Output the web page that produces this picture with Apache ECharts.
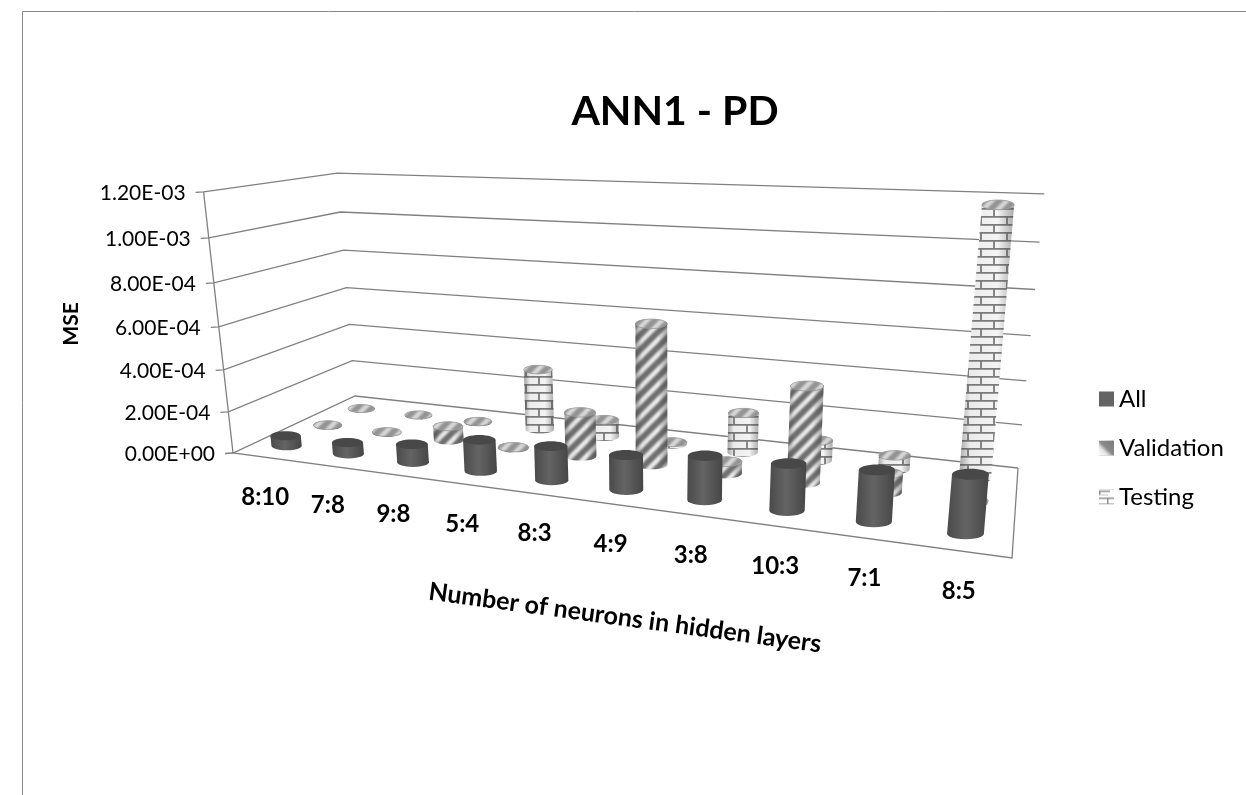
<!DOCTYPE html>
<html><head><meta charset="utf-8">
<style>html,body{margin:0;padding:0;background:#fff}#c{width:1246px;height:795px}</style>
<script src="https://cdn.jsdelivr.net/npm/echarts@6/dist/echarts.min.js"></script>
</head><body><div id="c"></div>
<script>
const categories = ['8:10','7:8','9:8','5:4','8:3','4:9','3:8','10:3','7:1','8:5'];
const allValues = [5e-5,5.5e-5,8.5e-5,1.45e-4,1.55e-4,1.55e-4,1.92e-4,2e-4,2.15e-4,2.4e-4];
const validationValues = [3e-6,4e-6,7e-5,4e-6,2.1e-4,6.45e-4,5.5e-5,4.3e-4,8.5e-5,1e-5];
const testingValues = [3e-6,3e-6,4e-6,3.05e-4,8.5e-5,1e-5,1.9e-4,9.5e-5,6.5e-5,1.17e-3];
const yTicks = [0,2e-4,4e-4,6e-4,8e-4,1e-3,1.2e-3];
const yTickLabels = ['0.00E+00','2.00E-04','4.00E-04','6.00E-04','8.00E-04','1.00E-03','1.20E-03'];

const FONT='Lato';
// projection: floor homography plus a height column fitted to the wall corners
const FL=[233,453],FR=[1012,558],BR=[1018,468],BL=[355,396];
const TFL=[208,191],TBL=[333,172],TBR=[1045,196];
const H=(function(){
  const dx1=FR[0]-BR[0],dy1=FR[1]-BR[1],dx2=BL[0]-BR[0],dy2=BL[1]-BR[1];
  const sx=FL[0]-FR[0]+BR[0]-BL[0],sy=FL[1]-FR[1]+BR[1]-BL[1];
  const den=dx1*dy2-dx2*dy1;
  const g=(sx*dy2-dx2*sy)/den,h=(dx1*sy-sx*dy1)/den;
  return {a:FR[0]-FL[0]+g*FR[0],b:BL[0]-FL[0]+h*BL[0],c:FL[0],d:FR[1]-FL[1]+g*FR[1],e:BL[1]-FL[1]+h*BL[1],f:FL[1],g,h};
})();
function floorH(u,d){return [H.a*u+H.b*d+H.c,H.d*u+H.e*d+H.f,H.g*u+H.h*d+1];}
const Z=(function(){
  const pts=[[0,0,TFL],[1,1,TBR],[0,1,TBL]];
  const M=[[0,0,0],[0,0,0],[0,0,0]],R=[0,0,0];
  function add(r,t){for(let i=0;i<3;i++){R[i]+=r[i]*t;for(let j=0;j<3;j++)M[i][j]+=r[i]*r[j];}}
  pts.forEach(p=>{const f=floorH(p[0],p[1]);const t=p[2];
    add([1,0,-t[0]],t[0]*f[2]-f[0]);add([0,1,-t[1]],t[1]*f[2]-f[1]);});
  for(let i=0;i<3;i++){for(let k=i+1;k<3;k++){const m=M[k][i]/M[i][i];for(let j=i;j<3;j++)M[k][j]-=m*M[i][j];R[k]-=m*R[i];}}
  const s=[0,0,0];
  for(let i=2;i>=0;i--){let v=R[i];for(let j=i+1;j<3;j++)v-=M[i][j]*s[j];s[i]=v/M[i][i];}
  return s;
})();
function P(u,d,h){const f=floorH(u,d);const w=f[2]+Z[2]*h;return [(f[0]+Z[0]*h)/w,(f[1]+Z[1]*h)/w];}
function norm(api,params,i,v){
  const p=api.coord([i,v]);const c=params.coordSys;
  return [(p[0]-c.x)/c.width,(c.y+c.height-p[1])/c.height];
}
// textures
function mk(w,h,fn){const c=document.createElement('canvas');c.width=w;c.height=h;fn(c.getContext('2d'),w,h);return c;}
const stripeTex=mk(15,15,(g,w,h)=>{
  g.fillStyle='#f0f0f0';g.fillRect(0,0,w,h);
  g.strokeStyle='#6f6f6f';g.lineWidth=6;g.lineCap='square';g.filter='blur(1px)';
  for(let k=-30;k<=45;k+=15){g.beginPath();g.moveTo(k-5,h+5);g.lineTo(k+w+5,-5);g.stroke();}
});
const brickTex=mk(26,16,(g,w,h)=>{
  g.fillStyle='#f4f4f4';g.fillRect(0,0,w,h);
  g.strokeStyle='#7c7c7c';g.lineWidth=1.8;
  g.beginPath();g.moveTo(0,.9);g.lineTo(w,.9);g.moveTo(0,8.9);g.lineTo(w,8.9);
  g.moveTo(6,0);g.lineTo(6,8);g.moveTo(19,8);g.lineTo(19,16);g.stroke();
});
const legendValid=mk(15,15,(g)=>{
  const l=g.createLinearGradient(0,15,15,0);l.addColorStop(0,'#ffffff');l.addColorStop(.3,'#e4e4e4');l.addColorStop(.5,'#8a8a8a');l.addColorStop(1,'#7a7a7a');
  g.fillStyle=l;g.fillRect(0,0,15,15);
});
const legendTest=mk(15,15,(g)=>{
  g.fillStyle='#fff';g.fillRect(0,0,15,15);
  g.fillStyle='#8f8f8f';g.fillRect(0,1,11,1.5);g.fillRect(0,8,15,1.5);g.fillRect(0,14,15,1);
  g.fillRect(0,1,1.5,4);g.fillRect(8,8,1.5,6);
  g.fillStyle='#c4c4c4';g.fillRect(0,5,9,1);
});
const legendAll=mk(15,15,(g)=>{g.fillStyle='#646464';g.fillRect(0,0,15,15);});
function pat(c){return {image:c,repeat:'repeat'};}

const LINE={stroke:'#808080',lineWidth:1.3};
function barRender(kind,depth){
  const base=15.5-3*depth;
  return function(params,api){
    const i=api.value(0),v=api.value(1);
    const p0=norm(api,params,i,0),p1=norm(api,params,i,v);
    const u=p0[0];
    const b=P(u,depth,0),t=P(u,depth,p1[1]);
    const rx=base*(1+0.24*u),ry=rx*0.3;
    const pts=[[t[0]-rx,t[1]],[b[0]-rx,b[1]]];
    for(let k=1;k<12;k++){const a=Math.PI*k/12;pts.push([b[0]-rx*Math.cos(a),b[1]+ry*Math.sin(a)]);}
    pts.push([b[0]+rx,b[1]],[t[0]+rx,t[1]]);
    const shade={type:'linear',x:0,y:0,x2:1,y2:0,colorStops:
      kind==='all'?[{offset:0,color:'#4a4a4a'},{offset:.45,color:'#646464'},{offset:1,color:'#464646'}]:
      [{offset:0,color:'rgba(60,60,60,.45)'},{offset:.2,color:'rgba(60,60,60,.05)'},{offset:.7,color:'rgba(60,60,60,0)'},{offset:1,color:'rgba(60,60,60,.4)'}]};
    const children=[];
    if(kind==='all'){
      children.push({type:'polygon',shape:{points:pts},style:{fill:shade}});
      children.push({type:'ellipse',shape:{cx:t[0],cy:t[1],rx:rx,ry:ry},style:{fill:'#484848'}});
    }else{
      const tex=kind==='val'?stripeTex:brickTex;
      children.push({type:'polygon',shape:{points:pts},style:{fill:pat(tex)}});
      children.push({type:'polygon',shape:{points:pts},style:{fill:shade}});
      children.push({type:'ellipse',shape:{cx:t[0],cy:t[1],rx:rx,ry:ry},style:{fill:pat(stripeTex),stroke:'#8a8a8a',lineWidth:.8}});
      children.push({type:'ellipse',shape:{cx:t[0],cy:t[1],rx:rx,ry:ry},style:{fill:'rgba(190,190,190,.45)'}});
    }
    return {type:'group',children};
  };
}
function wallsRender(params,api){
  const v=api.value(0);
  const h=norm(api,params,0,v)[1];
  const a=P(0,0,h),b=P(0,1,h),c=P(1,1,h);
  return {type:'group',children:[
    {type:'polyline',shape:{points:[[a[0]-8,a[1]+0.5],a,b,c]},style:Object.assign({fill:null},LINE)},
    {type:'text',style:{x:a[0]-18,y:a[1]+1,text:yTickLabels[params.dataIndex],align:'right',verticalAlign:'middle',font:'21px '+FONT,fill:'#000'}}
  ]};
}
function frameRender(params,api){
  const a=P(0,0,0),t=P(0,0,1),fr=P(1,0,0),br=P(1,1,0);
  return {type:'group',children:[
    {type:'polyline',shape:{points:[t,a,fr,br]},style:Object.assign({fill:null},LINE)}
  ]};
}
function catRender(params,api){
  const i=api.value(0);
  const u=norm(api,params,i,0)[0];
  const f=P(u,0,0);
  return {type:'text',style:{x:f[0]+2-6*u,y:f[1]+40,text:categories[i],align:'center',verticalAlign:'middle',font:'bold 24px '+FONT,fill:'#000'}};
}
const base={type:'custom',silent:true,clip:false};
const chart=echarts.init(document.getElementById('c'),null,{renderer:'canvas'});
chart.setOption({
  animation:false,
  backgroundColor:'#fff',
  title:{text:'ANN1 - PD',left:670,top:86,textAlign:'center',textStyle:{fontFamily:FONT,fontWeight:'bold',fontSize:41,color:'#000'}},
  tooltip:{show:false},
  grid:{left:100,top:100,width:800,height:500},
  xAxis:{type:'category',data:categories,show:false},
  yAxis:{type:'value',min:0,max:1.2e-3,interval:2e-4,show:false},
  legend:{orient:'vertical',left:1094,top:382,itemWidth:15,itemHeight:15,itemGap:25,selectedMode:false,
    textStyle:{fontFamily:FONT,fontSize:24,color:'#000'},
    data:[{name:'All',icon:'rect',itemStyle:{color:pat(legendAll)}},
          {name:'Validation',icon:'rect',itemStyle:{color:pat(legendValid)}},
          {name:'Testing',icon:'rect',itemStyle:{color:pat(legendTest)}}]},
  graphic:[
    {type:'rect',shape:{x:22.5,y:11.5,width:1300,height:900},style:{fill:null,stroke:'#8a8a8a',lineWidth:1},z:-5},
    {type:'text',x:71,y:324,rotation:Math.PI/2,style:{x:0,y:0,text:'MSE',align:'center',verticalAlign:'middle',font:'bold 21px '+FONT,fill:'#000'},z:5},
    {type:'text',x:625,y:618,rotation:-7.7*Math.PI/180,style:{x:0,y:0,text:'Number of neurons in hidden layers',align:'center',verticalAlign:'middle',font:'bold 25px '+FONT,fill:'#000'},z:5}
  ],
  series:[
    Object.assign({},base,{name:'walls',data:yTicks.map(v=>[v]),renderItem:wallsRender,z:1}),
    Object.assign({},base,{name:'frame',data:[[0]],renderItem:frameRender,z:1}),
    Object.assign({},base,{name:'cats',data:categories.map((c,i)=>[i]),renderItem:catRender,z:2}),
    Object.assign({},base,{name:'Testing',data:testingValues.map((v,i)=>[i,v]),encode:{x:0,y:1},renderItem:barRender('test',0.8),z:3,itemStyle:{color:'#bbb'}}),
    Object.assign({},base,{name:'Validation',data:validationValues.map((v,i)=>[i,v]),encode:{x:0,y:1},renderItem:barRender('val',0.5),z:4,itemStyle:{color:'#999'}}),
    Object.assign({},base,{name:'All',data:allValues.map((v,i)=>[i,v]),encode:{x:0,y:1},renderItem:barRender('all',0.17),z:5,itemStyle:{color:'#646464'}})
  ]
});
</script></body></html>
